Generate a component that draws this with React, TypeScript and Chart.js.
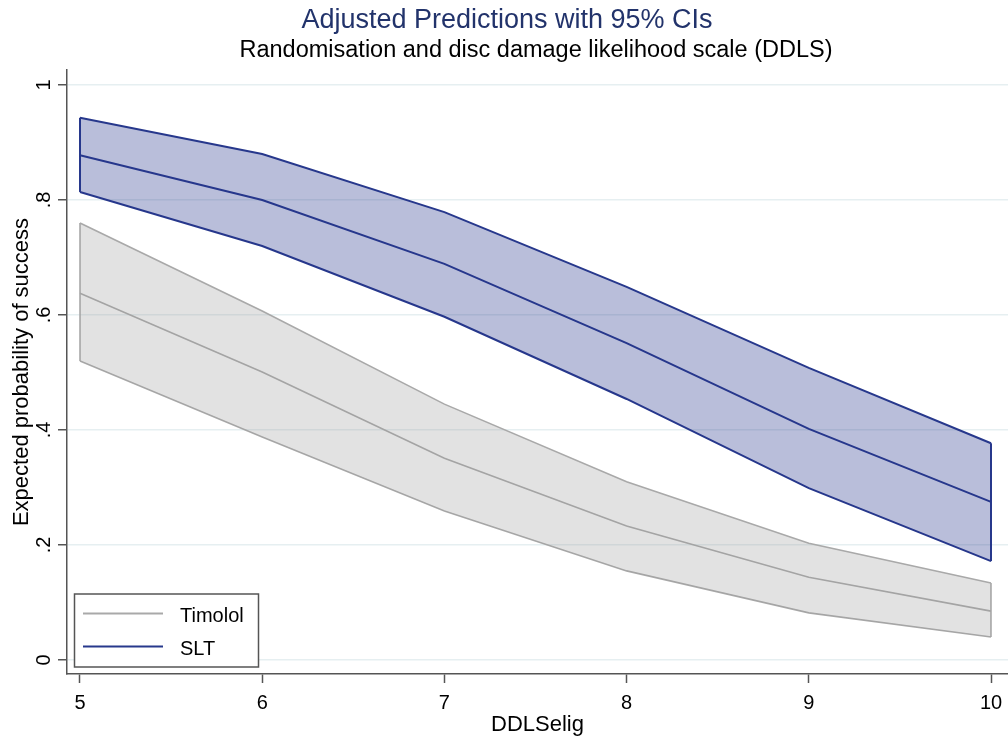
import React, { useEffect, useRef } from "react";
import { Chart, registerables } from "chart.js";

Chart.register(...registerables);

const titleText = "Adjusted Predictions with 95% CIs";
const subtitleText = "Randomisation and disc damage likelihood scale (DDLS)";
const xAxisTitle = "DDLSelig";
const yAxisTitle = "Expected probability of success";

const xValues = [5, 6, 7, 8, 9, 10];
const timololMid = [0.638, 0.501, 0.351, 0.233, 0.144, 0.085];
const timololUpper = [0.76, 0.607, 0.445, 0.31, 0.203, 0.134];
const timololLower = [0.52, 0.388, 0.259, 0.155, 0.082, 0.04];
const sltMid = [0.878, 0.8, 0.689, 0.551, 0.402, 0.275];
const sltUpper = [0.943, 0.88, 0.779, 0.649, 0.508, 0.377];
const sltLower = [0.814, 0.72, 0.597, 0.454, 0.299, 0.172];

const xTicks = [5, 6, 7, 8, 9, 10];
const yTicks = [0, 0.2, 0.4, 0.6, 0.8, 1];
const yTickLabels = ["0", ".2", ".4", ".6", ".8", "1"];
const seriesNames = ["Timolol", "SLT"];

const FONT = '"Liberation Sans", Arial, Helvetica, sans-serif';
const TIM_LINE = "#a9a9a9";
const TIM_FILL = "rgba(150,150,150,0.28)";
const SLT_LINE = "#27388c";
const SLT_FILL = "rgba(38,54,140,0.32)";
const AXIS = "#555555";

const pts = (ys: number[]) => xValues.map((x, i) => ({ x, y: ys[i] }));
const edge = (i: number, lo: number[], hi: number[]) => [
  { x: xValues[i], y: lo[i] },
  { x: xValues[i], y: hi[i] },
];

const textPlugin = {
  id: "customTexts",
  afterDraw(chart: any) {
    const ctx = chart.ctx as CanvasRenderingContext2D;
    const xs = chart.scales.x;
    const ys = chart.scales.y;
    const area = chart.chartArea;
    ctx.save();
    ctx.textBaseline = "alphabetic";
    // titles
    ctx.textAlign = "center";
    ctx.fillStyle = "#22336b";
    ctx.font = `27px ${FONT}`;
    ctx.fillText(titleText, 507, 28);
    ctx.fillStyle = "#000000";
    ctx.font = `23.5px ${FONT}`;
    ctx.fillText(subtitleText, 536, 57);

    // x tick labels
    ctx.font = `20px ${FONT}`;
    ctx.fillStyle = "#000000";
    xTicks.forEach((v) => {
      ctx.fillText(String(v), xs.getPixelForValue(v), 709);
    });
    // y tick labels (rotated)
    yTicks.forEach((v, i) => {
      const y = ys.getPixelForValue(v);
      ctx.save();
      ctx.translate(50, y);
      ctx.rotate(-Math.PI / 2);
      ctx.textAlign = "center";
      ctx.fillText(yTickLabels[i], 0, 0);
      ctx.restore();
    });
    // axis titles
    ctx.font = `22px ${FONT}`;
    ctx.textAlign = "center";
    ctx.fillText(xAxisTitle, (area.left + area.right) / 2, 731);
    ctx.save();
    ctx.translate(28, (area.top + area.bottom) / 2);
    ctx.rotate(-Math.PI / 2);
    ctx.fillText(yAxisTitle, 0, 0);
    ctx.restore();

    // legend box
    const bx = 74.5, by = 594, bw = 184, bh = 73;
    ctx.fillStyle = "#ffffff";
    ctx.fillRect(bx, by, bw, bh);
    ctx.strokeStyle = AXIS;
    ctx.lineWidth = 1.5;
    ctx.strokeRect(bx, by, bw, bh);
    const rows = [
      { name: seriesNames[0], color: TIM_LINE, y: 613.5, base: 622 },
      { name: seriesNames[1], color: SLT_LINE, y: 646.5, base: 655 },
    ];
    rows.forEach((r) => {
      ctx.strokeStyle = r.color;
      ctx.lineWidth = 2;
      ctx.beginPath();
      ctx.moveTo(83, r.y);
      ctx.lineTo(163, r.y);
      ctx.stroke();
      ctx.fillStyle = "#000000";
      ctx.font = `20px ${FONT}`;
      ctx.textAlign = "left";
      ctx.fillText(r.name, 180, r.base);
    });
    ctx.restore();
  },
};

export default function App() {
  const ref = useRef<HTMLCanvasElement | null>(null);
  useEffect(() => {
    document.body.style.margin = "0";
    if (!ref.current) return;
    const line = (data: any[], color: string, width: number, extra: any = {}) => ({
      data,
      borderColor: color,
      borderWidth: width,
      pointRadius: 0,
      tension: 0,
      fill: false,
      ...extra,
    });
    const chart = new Chart(ref.current, {
      type: "line",
      data: {
        datasets: [
          line(pts(timololUpper), TIM_LINE, 1.6, { fill: "+1", backgroundColor: TIM_FILL }),
          line(pts(timololLower), TIM_LINE, 1.6),
          line(pts(timololMid), TIM_LINE, 1.6),
          line(edge(0, timololLower, timololUpper), TIM_LINE, 1.6),
          line(edge(5, timololLower, timololUpper), TIM_LINE, 1.6),
          line(pts(sltUpper), SLT_LINE, 2, { fill: "+1", backgroundColor: SLT_FILL }),
          line(pts(sltLower), SLT_LINE, 2),
          line(pts(sltMid), SLT_LINE, 2),
          line(edge(0, sltLower, sltUpper), SLT_LINE, 2),
          line(edge(5, sltLower, sltUpper), SLT_LINE, 2),
        ],
      },
      options: {
        responsive: false,
        animation: false,
        events: [],
        layout: { padding: { left: 58, right: 0, top: 70, bottom: 55 } },
        plugins: {
          legend: { display: false },
          title: { display: false },
          tooltip: { enabled: false },
        },
        scales: {
          x: {
            type: "linear",
            min: 4.9287,
            max: 10.0933,
            afterBuildTicks: (s: any) => {
              s.ticks = xTicks.map((v) => ({ value: v }));
            },
            ticks: { display: false },
            grid: {
              drawOnChartArea: false,
              drawTicks: true,
              tickLength: 9,
              tickColor: AXIS,
              tickWidth: 1.5,
              color: AXIS,
            },
            border: { display: true, color: AXIS, width: 1.5 },
          },
          y: {
            type: "linear",
            min: -0.0243,
            max: 1.0261,
            afterBuildTicks: (s: any) => {
              s.ticks = yTicks.map((v) => ({ value: v }));
            },
            ticks: { display: false },
            grid: {
              color: "#e6eff1",
              lineWidth: 1.5,
              drawTicks: true,
              tickLength: 9,
              tickColor: AXIS,
              tickWidth: 1.5,
            },
            border: { display: true, color: AXIS, width: 1.5 },
          },
        },
      },
      plugins: [textPlugin],
    } as any);
    return () => chart.destroy();
  }, []);
  return (
    <div style={{ position: "absolute", left: 0, top: 0, width: 1008, height: 738 }}>
      <canvas ref={ref} width={1008} height={738} style={{ display: "block" }} />
    </div>
  );
}
